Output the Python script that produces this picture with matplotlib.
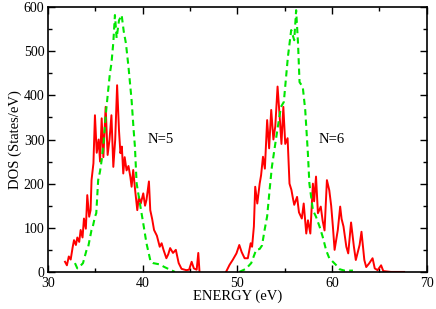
import matplotlib
matplotlib.use("Agg")
import matplotlib.pyplot as plt
from matplotlib.ticker import MultipleLocator

# band N=5, red solid (calculated DOS)
e5_red = [31.8, 32.0, 32.2, 32.4, 32.6, 32.75, 32.95, 33.1, 33.3, 33.45, 33.65, 33.8, 34.0, 34.15,
          34.35, 34.5, 34.6, 34.8, 34.96, 35.15, 35.35, 35.5, 35.67, 35.85, 36.09, 36.3, 36.5, 36.7,
          36.9, 37.1, 37.3, 37.5, 37.65, 37.8, 37.95, 38.1, 38.3, 38.5, 38.7, 38.83, 39.0, 39.2,
          39.43, 39.6, 39.8, 40.06, 40.25, 40.4, 40.66, 40.8, 41.0, 41.2, 41.5, 41.8, 42.0, 42.2,
          42.5, 42.7, 42.9, 43.2, 43.5, 43.8, 44.1, 44.6, 44.9, 45.17, 45.4, 45.7, 45.87, 46.0]
d5_red = [23, 15, 35, 28, 55, 72, 61, 78, 68, 95, 78, 121, 98, 174,
          125, 140, 208, 246, 355, 270, 300, 250, 348, 260, 374, 265, 300, 355,
          238, 300, 423, 320, 269, 284, 223, 260, 230, 240, 215, 193, 231, 186,
          140, 170, 155, 178, 150, 163, 205, 140, 120, 95, 82, 57, 65, 50,
          31, 40, 54, 43, 50, 20, 7, 4, 5, 23, 8, 5, 43, 0]

# band N=6, red solid
e6_red = [48.8, 49.17, 49.5, 49.9, 50.2, 50.45, 50.76, 51.1, 51.4, 51.55, 51.74, 51.88, 52.1, 52.35,
          52.5, 52.7, 52.9, 53.14, 53.35, 53.57, 53.8, 54.0, 54.24, 54.5, 54.65, 54.85, 55.05, 55.3,
          55.5, 55.7, 55.86, 56.0, 56.3, 56.5, 56.8, 57.0, 57.27, 57.45, 57.7, 57.97, 58.1, 58.3,
          58.5, 58.8, 59.0, 59.2, 59.45, 59.7, 59.9, 60.08, 60.26, 60.6, 60.85, 61.0, 61.2, 61.5,
          61.7, 62.0, 62.3, 62.5, 62.9, 63.1, 63.4, 63.6, 63.9, 64.27, 64.5, 64.8, 65.17, 65.4,
          66.2, 67.6]
d6_red = [0, 16, 27, 42, 61, 45, 31, 31, 65, 57, 103, 193, 155, 200,
          219, 261, 234, 344, 280, 367, 300, 330, 420, 340, 290, 374, 290, 303,
          200, 186, 167, 152, 170, 135, 121, 155, 87, 117, 87, 200, 160, 216,
          133, 148, 116, 94, 208, 185, 150, 103, 50, 95, 148, 120, 103, 57,
          42, 112, 57, 27, 61, 91, 27, 11, 19, 31, 8, 4, 15, 2,
          0, 0]

# green dashed (model DOS)
e5_grn = [32.85, 33.1, 33.4, 33.7, 34.08, 34.25, 34.6, 34.74, 34.96, 35.1, 35.3, 35.49, 35.67, 35.9,
          36.12, 36.35, 36.54, 36.7, 36.9, 37.07, 37.25, 37.5, 37.78, 38.0, 38.23, 38.5, 38.83,
          39.05, 39.18, 39.36, 39.7, 40.06, 40.4, 40.84, 41.1, 41.8, 42.3, 42.9, 43.4]
d5_grn = [20, 8, 13, 20, 50, 57, 95, 103, 125, 133, 208, 227, 253, 300,
          360, 410, 450, 472, 520, 582, 530, 570, 582, 545, 518, 465, 389,
          320, 284, 201, 156, 110, 65, 23, 20, 17, 11, 5, 0]

e6_grn = [50.2, 50.9, 51.46, 51.98, 52.35, 52.6, 52.87, 53.14, 53.4, 53.64, 53.9, 54.27, 54.6, 54.9,
          55.33, 55.68, 56.0, 56.2, 56.4, 56.56, 56.9, 57.16, 57.44, 57.6, 57.97, 58.3, 58.67,
          59.0, 59.37, 59.7, 60.08, 60.4, 60.8, 61.3, 62.2]
d6_grn = [0, 7, 20, 50, 52, 60, 95, 126, 186, 238, 276, 329, 374, 385,
          487, 548, 525, 593, 518, 430, 419, 367, 269, 200, 140, 125, 103,
          80, 49, 31, 23, 16, 6, 3, 3]

plt.rcParams["font.family"] = ["Liberation Serif", "DejaVu Serif"]

fig = plt.figure(figsize=(4.36, 3.09), dpi=100)
ax = fig.add_axes([0.110, 0.120, 0.869, 0.857])

for e, d in ((e5_red, d5_red), (e6_red, d6_red)):
    ax.plot(e, d, color="#ff0000", lw=1.4)
for e, d in ((e5_grn, d5_grn), (e6_grn, d6_grn)):
    ax.plot(e, d, color="#00e600", lw=1.5, ls=(0, (3, 2)))

ax.text(41.9, 300, "N=5", fontsize=10.5, ha="center", va="center")
ax.text(59.9, 300, "N=6", fontsize=10.5, ha="center", va="center")

ax.set_xlim(30, 70); ax.set_ylim(0, 600)
ax.xaxis.set_major_locator(MultipleLocator(10)); ax.xaxis.set_minor_locator(MultipleLocator(5))
ax.yaxis.set_major_locator(MultipleLocator(100)); ax.yaxis.set_minor_locator(MultipleLocator(50))
ax.tick_params(which="both", direction="in", top=True, right=True, labelsize=10, width=1)
ax.tick_params(which="major", length=5)
ax.tick_params(axis="x", which="major", pad=4)
ax.tick_params(axis="y", which="major", pad=2.5)
ax.tick_params(which="minor", length=3)
for sp in ax.spines.values():
    sp.set_linewidth(1.2)
ax.set_xlabel("ENERGY (eV)", fontsize=10.5, labelpad=-1)
ax.set_ylabel("DOS (States/eV)", fontsize=10.5, labelpad=1)

fig.savefig("out.png", dpi=100)
